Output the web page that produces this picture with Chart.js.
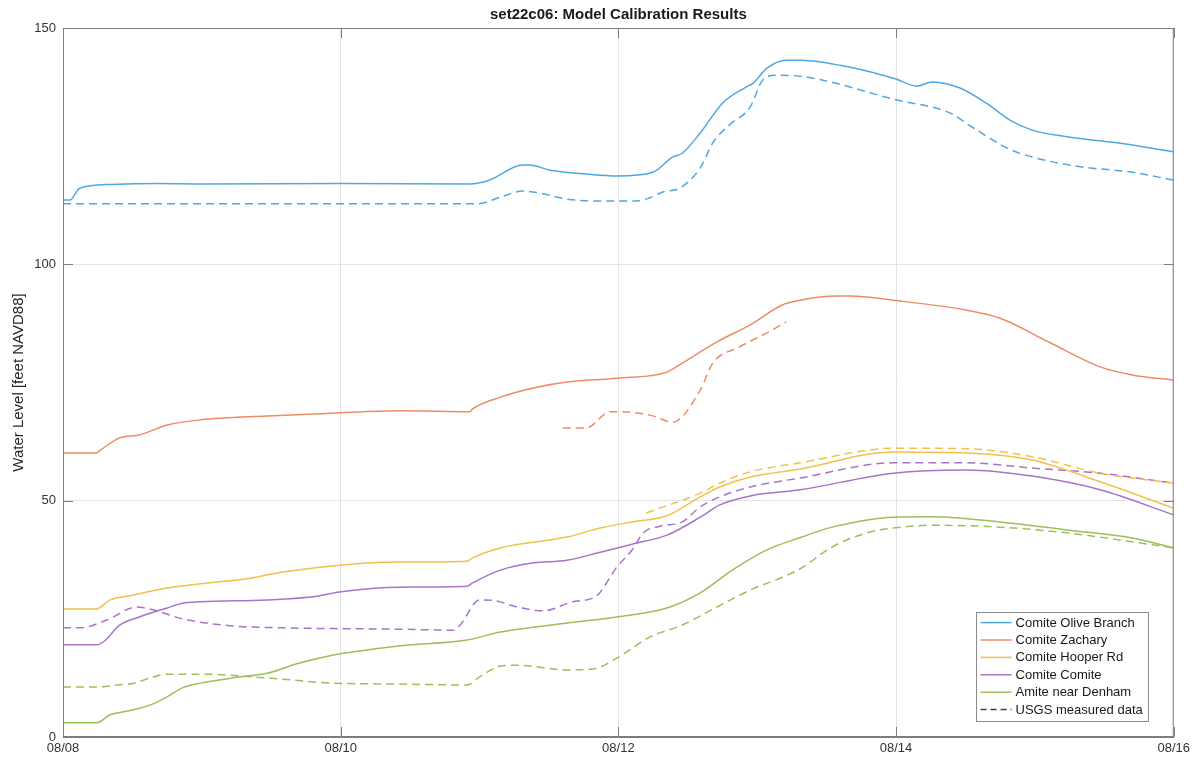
<!DOCTYPE html>
<html>
<head>
<meta charset="utf-8">
<script src="https://cdn.jsdelivr.net/npm/chart.js@4/dist/chart.umd.min.js"></script>
<style>
  html, body { margin: 0; padding: 0; background: #fff; }
  #wrap { width: 1194px; height: 761px; }
</style>
</head>
<body>
<div id="wrap"><canvas id="calChart" width="1194" height="761"></canvas></div>
<script>
// time axis is in days after 08/08 00:00
const xTickLabels = ['08/08', '08/10', '08/12', '08/14', '08/16'];
const yTicks = [0, 50, 100, 150];

const stations = ['Comite Olive Branch', 'Comite Zachary', 'Comite Hooper Rd', 'Comite Comite', 'Amite near Denham'];
const colors = ['#4ea8e2', '#ee8b66', '#f2c14c', '#a774c8', '#9cbf5a'];

// model results (solid)
const oliveX = [0, 0.05, 0.12, 0.34, 0.7, 1.0, 2.0, 2.93, 3.07, 3.31, 3.36, 3.51, 3.77, 3.99, 4.25, 4.39, 4.46, 4.59, 4.75, 4.92, 4.97, 5.07, 5.21, 5.31, 5.67, 6.0, 6.15, 6.26, 6.46, 6.65, 6.82, 6.98, 7.23, 7.59, 8];
const oliveY = [113.6, 113.6, 116.1, 116.9, 117.1, 117.0, 117.1, 117.0, 117.8, 121.0, 121.0, 119.9, 119.1, 118.7, 119.5, 122.7, 123.5, 127.8, 134.1, 137.5, 138.3, 141.5, 143.2, 143.2, 141.7, 139.2, 137.7, 138.6, 137.3, 134.1, 130.5, 128.4, 127.0, 125.7, 123.8];

const zacharyX = [0, 0.24, 0.27, 0.41, 0.55, 0.75, 0.99, 1.47, 1.94, 2.43, 2.93, 2.95, 3.15, 3.38, 3.63, 3.99, 4.35, 4.46, 4.71, 4.95, 5.18, 5.31, 5.45, 5.59, 5.67, 5.98, 6.51, 6.75, 7.11, 7.47, 7.70, 8];
const zacharyY = [60.1, 60.1, 60.7, 63.3, 63.9, 66.0, 67.1, 67.9, 68.5, 69.0, 68.8, 69.4, 71.9, 73.8, 75.1, 75.9, 77.2, 79.1, 83.6, 87.2, 91.4, 92.4, 93.1, 93.3, 93.3, 92.4, 90.3, 88.6, 83.4, 78.3, 76.6, 75.5];

const hooperX = [0, 0.24, 0.34, 0.50, 0.75, 0.99, 1.35, 1.58, 1.94, 2.19, 2.43, 2.91, 2.95, 3.15, 3.63, 3.87, 4.10, 4.35, 4.59, 4.73, 4.95, 5.31, 5.98, 6.51, 6.98, 7.47, 8];
const hooperY = [27.1, 27.1, 29.0, 30.0, 31.5, 32.4, 33.6, 34.9, 36.2, 36.8, 37.0, 37.2, 37.9, 40.0, 42.3, 44.2, 45.5, 46.8, 50.8, 52.9, 55.0, 56.7, 60.3, 60.1, 58.6, 54.0, 48.4];

const comiteX = [0, 0.24, 0.29, 0.41, 0.55, 0.75, 0.86, 0.99, 1.47, 1.83, 1.99, 2.43, 2.91, 2.95, 3.15, 3.38, 3.63, 3.87, 4.10, 4.35, 4.59, 4.73, 4.95, 5.31, 5.98, 6.51, 6.98, 7.47, 8];
const comiteY = [19.5, 19.5, 20.1, 23.7, 25.4, 27.3, 28.3, 28.6, 29.0, 29.8, 30.7, 31.7, 31.9, 32.6, 35.3, 36.8, 37.4, 39.1, 40.8, 42.7, 46.5, 49.1, 51.0, 52.3, 55.8, 56.5, 55.2, 52.3, 47.0];

const amiteX = [0, 0.24, 0.34, 0.50, 0.63, 0.75, 0.86, 0.99, 1.22, 1.47, 1.71, 1.94, 2.19, 2.43, 2.91, 3.15, 3.63, 3.99, 4.35, 4.59, 4.82, 5.07, 5.31, 5.54, 5.98, 6.26, 6.75, 7.23, 7.70, 8];
const amiteY = [3.0, 3.0, 4.7, 5.7, 6.8, 8.5, 10.4, 11.4, 12.5, 13.5, 15.7, 17.3, 18.4, 19.3, 20.5, 22.2, 24.1, 25.4, 27.3, 30.5, 35.3, 39.6, 42.2, 44.4, 46.5, 46.6, 45.5, 43.8, 42.1, 40.0];

// USGS measured (dashed)
const oliveObsX = [0, 2.98, 3.15, 3.31, 3.43, 3.63, 3.87, 4.10, 4.20, 4.32, 4.44, 4.59, 4.68, 4.80, 4.95, 5.04, 5.14, 5.31, 6.0, 6.39, 6.55, 6.80, 6.98, 7.34, 7.70, 8];
const oliveObsY = [112.8, 112.8, 114.2, 115.5, 115.1, 113.8, 113.4, 113.4, 113.8, 115.3, 116.1, 120.4, 125.7, 129.5, 133.3, 139.0, 140.0, 139.8, 134.8, 132.0, 129.0, 124.6, 122.7, 120.6, 119.5, 117.8];

const zacharyObsX = [3.60, 3.77, 3.94, 4.01, 4.23, 4.39, 4.59, 4.68, 4.87, 5.07, 5.21];
const zacharyObsY = [65.4, 65.4, 68.8, 68.8, 68.1, 66.6, 73.4, 79.1, 82.5, 85.5, 87.8];

const hooperObsX = [4.20, 4.59, 4.73, 4.95, 5.31, 5.98, 6.51, 6.98, 7.47, 8];
const hooperObsY = [47.4, 51.6, 53.7, 56.1, 58.0, 61.1, 61.0, 59.3, 55.8, 53.7];

const comiteObsX = [0, 0.12, 0.32, 0.53, 0.65, 0.86, 1.22, 1.58, 2.43, 2.81, 2.86, 3.00, 3.10, 3.27, 3.46, 3.67, 3.84, 3.99, 4.10, 4.18, 4.30, 4.46, 4.59, 4.73, 4.95, 5.31, 5.98, 6.51, 6.98, 7.47, 8];
const comiteObsY = [23.1, 23.1, 24.8, 27.5, 26.9, 25.0, 23.5, 23.1, 22.8, 22.6, 23.7, 29.0, 28.9, 27.5, 26.7, 28.6, 29.8, 36.0, 39.6, 43.2, 44.6, 45.5, 48.7, 50.8, 52.9, 54.8, 58.0, 58.0, 56.9, 55.8, 53.7];

const amiteObsX = [0, 0.27, 0.39, 0.50, 0.65, 0.75, 0.99, 1.47, 1.94, 2.43, 2.91, 3.00, 3.15, 3.27, 3.63, 3.82, 3.99, 4.23, 4.46, 4.71, 4.95, 5.18, 5.31, 5.54, 5.79, 5.98, 6.26, 6.75, 7.23, 7.70, 8];
const amiteObsY = [10.6, 10.6, 11.0, 11.3, 12.7, 13.3, 13.3, 12.5, 11.4, 11.2, 11.0, 12.7, 15.0, 15.2, 14.2, 14.4, 16.7, 21.2, 23.7, 27.5, 31.1, 33.8, 35.6, 40.2, 43.2, 44.2, 44.8, 44.4, 43.2, 41.3, 40.0];

const modelX = [oliveX, zacharyX, hooperX, comiteX, amiteX];
const modelY = [oliveY, zacharyY, hooperY, comiteY, amiteY];
const obsX = [oliveObsX, zacharyObsX, hooperObsX, comiteObsX, amiteObsX];
const obsY = [oliveObsY, zacharyObsY, hooperObsY, comiteObsY, amiteObsY];

const FONT = '"Liberation Sans", Arial, Helvetica, sans-serif';
const AXIS_COLOR = '#7d7d7d';

function pts(xs, ys) {
  return xs.map((x, i) => ({ x: x, y: ys[i] }));
}

const datasets = [];
stations.forEach((name, i) => {
  datasets.push({
    label: name,
    data: pts(modelX[i], modelY[i]),
    borderColor: colors[i],
    borderWidth: 1.5,
    pointRadius: 0,
    cubicInterpolationMode: 'monotone',
    fill: false
  });
  datasets.push({
    label: name + ' (USGS)',
    data: pts(obsX[i], obsY[i]),
    borderColor: colors[i],
    borderWidth: 1.5,
    borderDash: [8, 5],
    pointRadius: 0,
    cubicInterpolationMode: 'monotone',
    fill: false
  });
});

// title, box, inward ticks and the MATLAB style legend
const matlabAxes = {
  id: 'matlabAxes',
  afterDraw(chart) {
    const ctx = chart.ctx;
    const a = chart.chartArea;
    const xs = chart.scales.x, ys = chart.scales.y;
    ctx.save();

    ctx.strokeStyle = AXIS_COLOR;
    ctx.lineWidth = 1;
    ctx.strokeRect(a.left + 0.5, a.top + 0.5, a.right - a.left - 1, a.bottom - a.top - 1);

    const tl = 10;
    ctx.beginPath();
    for (let v = 0; v <= 8; v += 2) {
      const px = Math.round(xs.getPixelForValue(v)) + 0.5;
      ctx.moveTo(px, a.bottom); ctx.lineTo(px, a.bottom - tl);
      ctx.moveTo(px, a.top); ctx.lineTo(px, a.top + tl);
    }
    yTicks.forEach(v => {
      const py = Math.round(ys.getPixelForValue(v)) + 0.5;
      ctx.moveTo(a.left, py); ctx.lineTo(a.left + tl, py);
      ctx.moveTo(a.right, py); ctx.lineTo(a.right - tl, py);
    });
    ctx.stroke();

    // title
    ctx.fillStyle = '#1a1a1a';
    ctx.font = 'bold 15px ' + FONT;
    ctx.textAlign = 'center';
    ctx.textBaseline = 'middle';
    ctx.fillText('set22c06: Model Calibration Results', (a.left + a.right) / 2, 15);

    // legend
    const entries = stations.map((s, i) => ({ text: s, color: colors[i], dash: [] }));
    entries.push({ text: 'USGS measured data', color: '#404040', dash: [6, 4] });
    ctx.font = '13px ' + FONT;
    let tw = 0;
    entries.forEach(e => { tw = Math.max(tw, ctx.measureText(e.text).width); });
    const rowH = 17.4;
    const bw = 40 + tw + 5;
    const bh = entries.length * rowH + 5;
    const bx = a.right - 26 - bw;
    const by = a.bottom - 16 - bh;
    ctx.fillStyle = '#fff';
    ctx.fillRect(bx, by, bw, bh);
    ctx.strokeStyle = '#8a8a8a';
    ctx.strokeRect(Math.round(bx) + 0.5, Math.round(by) + 0.5, Math.round(bw), Math.round(bh));
    ctx.textAlign = 'left';
    entries.forEach((e, i) => {
      const cy = by + 11 + i * rowH;
      ctx.strokeStyle = e.color;
      ctx.lineWidth = 1.5;
      ctx.setLineDash(e.dash);
      ctx.beginPath();
      ctx.moveTo(bx + 5, cy); ctx.lineTo(bx + 36, cy);
      ctx.stroke();
      ctx.setLineDash([]);
      ctx.fillStyle = '#1a1a1a';
      ctx.fillText(e.text, bx + 40, cy + 0.5);
    });
    ctx.restore();
  }
};

new Chart(document.getElementById('calChart').getContext('2d'), {
  type: 'line',
  data: { datasets },
  options: {
    responsive: false,
    animation: false,
    layout: { padding: { top: 28, right: 20, left: 0, bottom: 0 } },
    plugins: {
      legend: { display: false },
      tooltip: { enabled: false },
      title: { display: false }
    },
    scales: {
      x: {
        type: 'linear',
        min: 0,
        max: 8,
        afterFit: s => { s.height = 24; },
        afterBuildTicks: s => { s.ticks = xTickLabels.map((t, i) => ({ value: i * 2 })); },
        ticks: {
          callback: v => xTickLabels[Math.round(v / 2)],
          font: { family: FONT, size: 13 },
          color: '#333',
          padding: 4,
          maxRotation: 0,
          autoSkip: false
        },
        grid: { color: '#e4e4e4', drawTicks: false },
        border: { color: AXIS_COLOR }
      },
      y: {
        min: 0,
        max: 150,
        afterFit: s => { s.width = 63; },
        afterBuildTicks: s => { s.ticks = yTicks.map(v => ({ value: v })); },
        ticks: {
          font: { family: FONT, size: 13 },
          color: '#333',
          padding: 7
        },
        title: {
          display: true,
          text: 'Water Level [feet NAVD88]',
          font: { family: FONT, size: 15 },
          color: '#262626',
          padding: { top: 10, bottom: 0 }
        },
        grid: { color: '#e4e4e4', drawTicks: false },
        border: { color: AXIS_COLOR }
      }
    }
  },
  plugins: [matlabAxes]
});
</script>
</body>
</html>
